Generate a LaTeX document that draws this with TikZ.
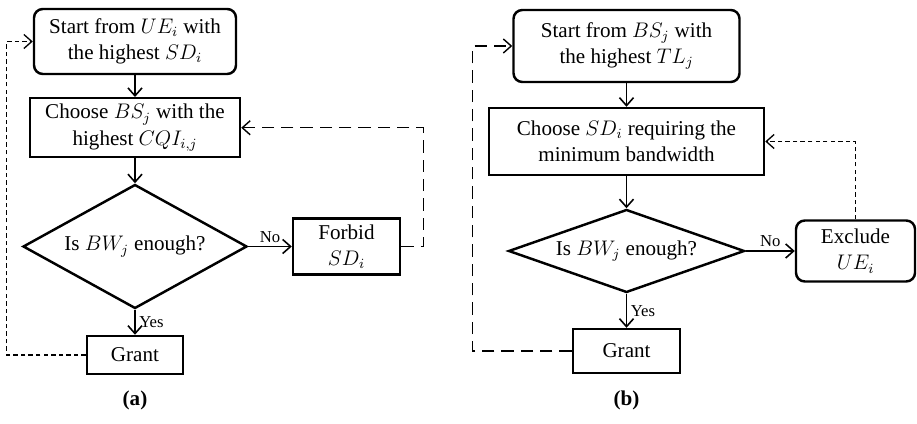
\documentclass[tikz,border=0pt]{standalone}
\usepackage{fontspec}
\setmainfont{Liberation Serif}
\usetikzlibrary{shapes.geometric,arrows.meta}

\begin{document}
\begin{tikzpicture}[x=1cm, y=1cm, >={Straight Barb[length=4.5pt,width=8pt]}, font=\fontsize{12}{15}\selectfont]

\useasboundingbox (0,0) rectangle (18.34,8.46);

%% setup styles for the flow charts
\tikzstyle{block}=[rectangle, draw, line width=1.4pt, align=center, inner sep=2pt]
\tikzstyle{startblock}=[block, rounded corners=5pt]
\tikzstyle{decision}=[diamond, draw, line width=1.4pt, inner sep=0pt, aspect=2.6]
\tikzstyle{flow}=[->, line width=0.9pt]
\tikzstyle{branch}=[font=\fontsize{9.5}{11}\selectfont, inner sep=2pt]
\tikzstyle{loop short}=[->, line width=0.75pt, dash pattern=on 2.5pt off 1.8pt]
\tikzstyle{loop long}=[->, line width=0.8pt, dash pattern=on 7pt off 4pt]

%% define coordinate grid
\def \xa {2.70}
\def \xb {12.53}
\def \xforbid {6.93}
\def \xexclude {17.11}
\def \ycaption {0.46}

% (a) user based allocation
\node[startblock, minimum width=4.04cm, minimum height=1.30cm] (SA) at (\xa,7.63) {Start from $UE_i$ with\\the highest $SD_i$};
\node[block, minimum width=4.2cm, minimum height=1.18cm] (CA) at (\xa,5.905) {Choose $BS_j$ with the\\highest $CQI_{i,j}$};
\node[decision, minimum width=4.48cm, minimum height=2.48cm] (DA) at (\xa,3.53) {Is $BW_j$ enough?};
\node[block, minimum width=1.92cm, minimum height=0.76cm] (GA) at (\xa,1.36) {Grant};
\node[block, minimum width=2.14cm, minimum height=1.12cm] (FA) at (\xforbid,3.53) {Forbid\\$SD_i$};

% (b) base station based allocation
\node[startblock, minimum width=4.52cm, minimum height=1.44cm] (SB) at (\xb,7.54) {Start from $BS_j$ with\\the highest $TL_j$};
\node[block, minimum width=5.5cm, minimum height=1.34cm] (CB) at (\xb,5.63) {Choose $SD_i$ requiring the\\minimum bandwidth};
\node[decision, minimum width=4.72cm, minimum height=1.66cm] (DB) at (\xb,3.44) {Is $BW_j$ enough?};
\node[block, minimum width=2.14cm, minimum height=0.88cm] (GB) at (\xb,1.44) {Grant};
\node[startblock, minimum width=2.38cm, minimum height=1.22cm] (EB) at (\xexclude,3.44) {Exclude\\$UE_i$};

%% main flow
\foreach \p in {A,B}{
\draw[flow] (S\p) -- (C\p);
\draw[flow] (C\p) -- (D\p);
\draw[flow] (D\p) -- node[branch, right] {Yes} (G\p);
}
\draw[flow] (DA.east) -- node[branch, above] {No} (FA.west);
\draw[flow] (DB.east) -- node[branch, above] {No} (EB.west);

%% feedback loops
\draw[loop long] (FA.east) -- ++(0.44,0) |- (CA.east);
\draw[loop short] (GA.west) -- ++(-1.58,0) |- (SA.west);
\draw[loop short] (EB.north) |- (CB.east);
\draw[loop long] (GB.west) -- ++(-1.98,0) |- (SB.west);

{\node[font=\fontsize{12}{15}\bfseries] (la) at (\xa,\ycaption) {(a)};}
{\node[font=\fontsize{12}{15}\bfseries] (lb) at (\xb,\ycaption) {(b)};}

\end{tikzpicture}
\end{document}
